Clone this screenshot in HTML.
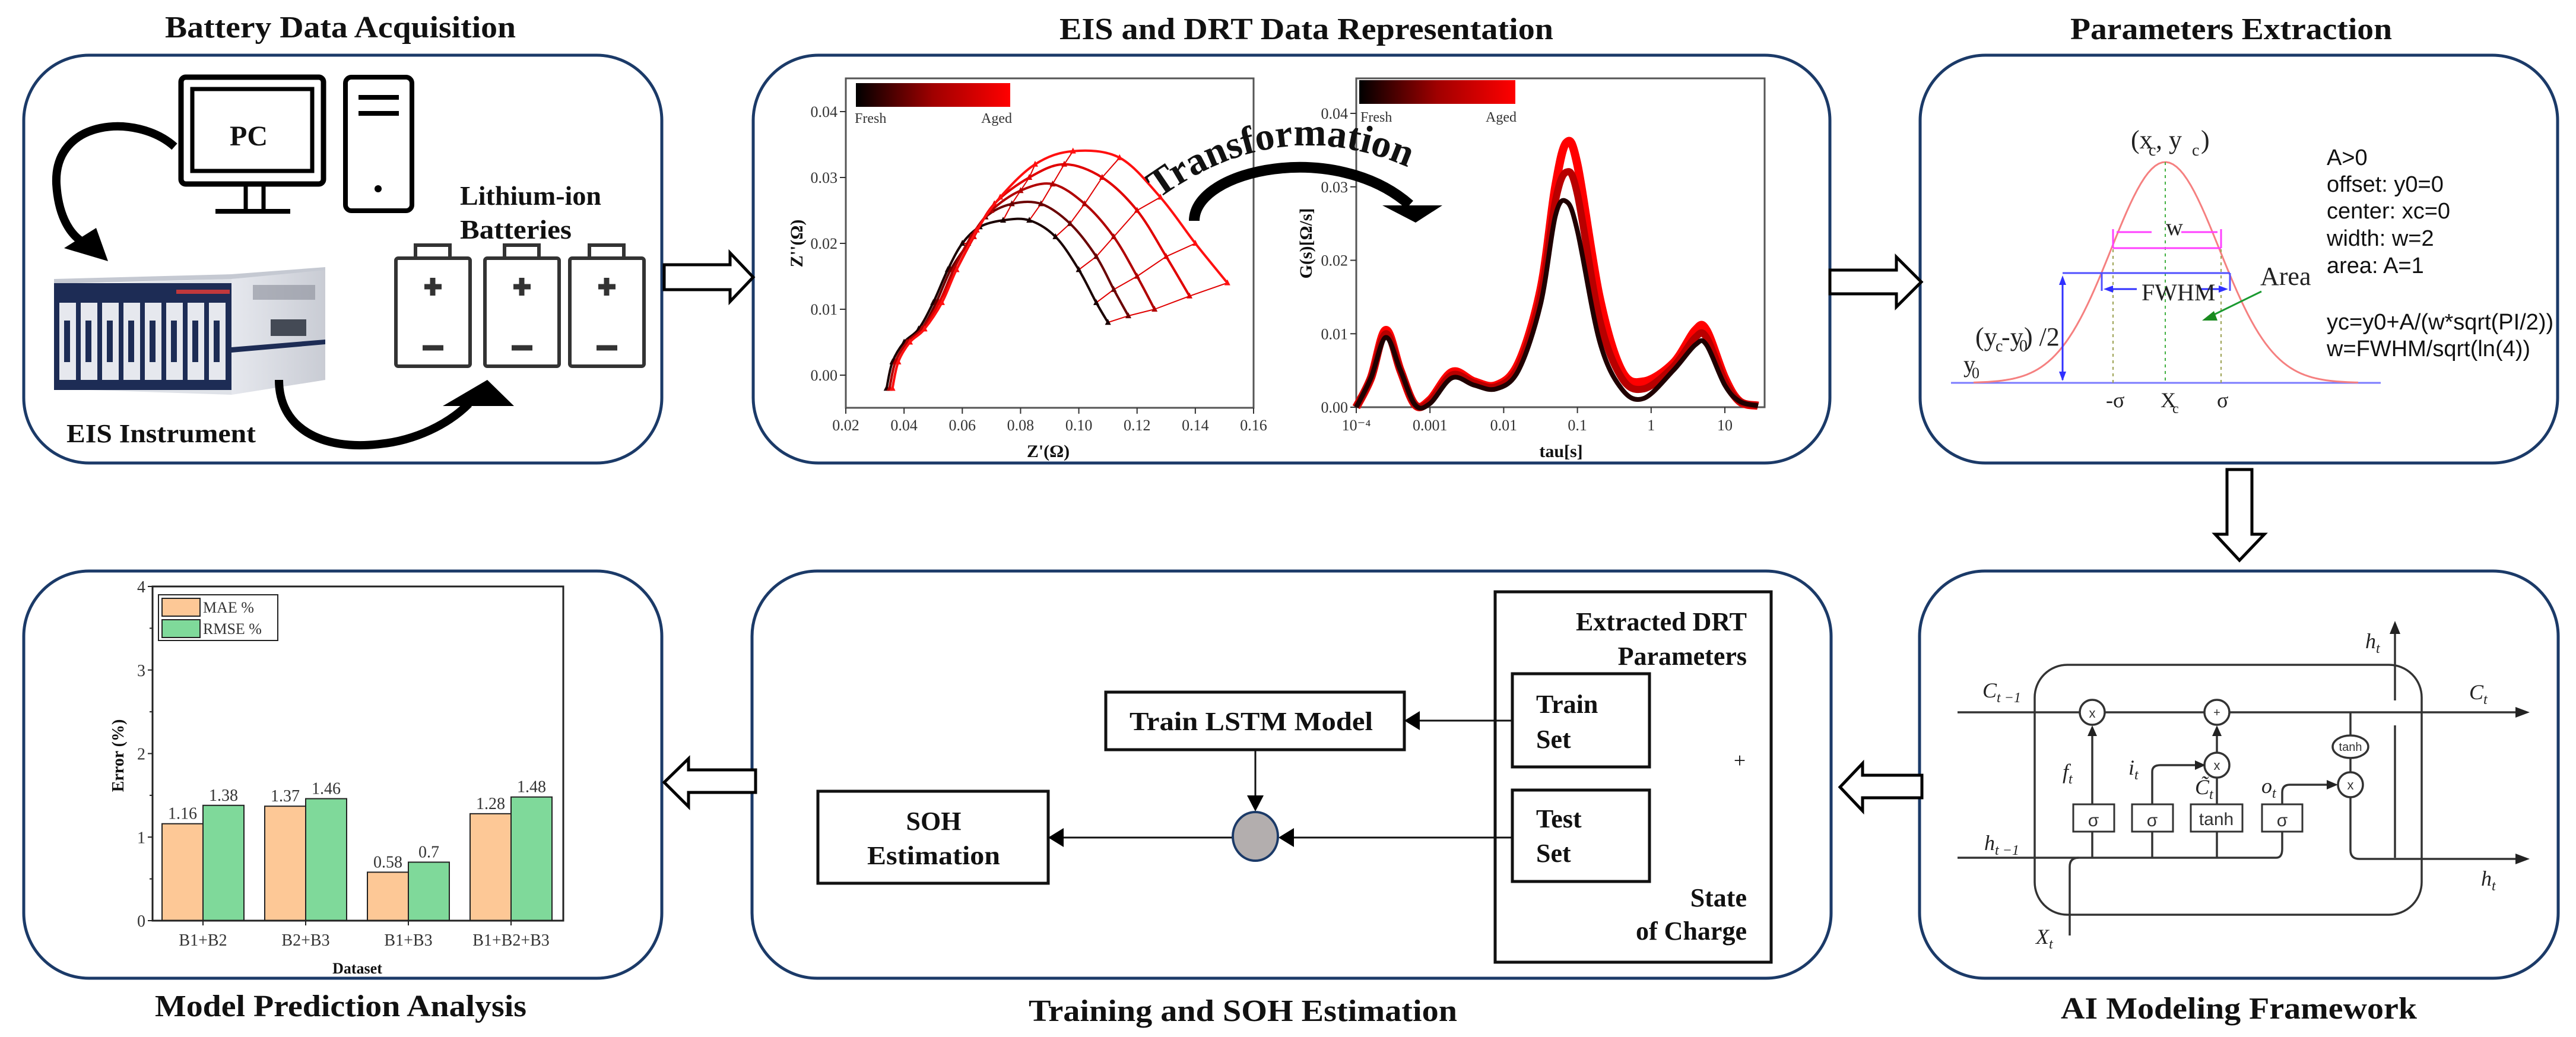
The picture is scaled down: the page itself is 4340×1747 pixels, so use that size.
<!DOCTYPE html>
<html><head><meta charset="utf-8">
<style>
html,body{margin:0;padding:0;background:#fff;}
svg{display:block;}
.ttl{font-family:"Liberation Serif",serif;font-weight:bold;font-size:52px;fill:#111;}
.lbl{font-family:"Liberation Serif",serif;font-weight:bold;fill:#111;}
.ar{font-family:"Liberation Sans",sans-serif;fill:#111;}
.tk{font-family:"Liberation Serif",serif;fill:#333;}
</style></head>
<body>
<svg id="root" width="4340" height="1747" viewBox="0 0 4340 1747" xmlns="http://www.w3.org/2000/svg">
<defs>
<linearGradient id="cb" x1="0" x2="1" y1="0" y2="0"><stop offset="0" stop-color="#000"/><stop offset="0.5" stop-color="#a00000"/><stop offset="1" stop-color="#ff0000"/></linearGradient>
<linearGradient id="side" x1="0" x2="1"><stop offset="0" stop-color="#e6e8ee"/><stop offset="1" stop-color="#c9ccd4"/></linearGradient>
<path id="tpath" d="M1945 340 Q 2200 150 2475 340"/>
</defs>

<!-- Titles -->
<text class="ttl" x="278" y="63" textLength="591" lengthAdjust="spacingAndGlyphs">Battery Data Acquisition</text>
<text class="ttl" x="1785" y="66" textLength="832" lengthAdjust="spacingAndGlyphs">EIS and DRT Data Representation</text>
<text class="ttl" x="3488" y="66" textLength="542" lengthAdjust="spacingAndGlyphs">Parameters Extraction</text>
<text class="ttl" x="261" y="1712" textLength="626" lengthAdjust="spacingAndGlyphs">Model Prediction Analysis</text>
<text class="ttl" x="1733" y="1720" textLength="722" lengthAdjust="spacingAndGlyphs">Training and SOH Estimation</text>
<text class="ttl" x="3472" y="1716" textLength="600" lengthAdjust="spacingAndGlyphs">AI Modeling Framework</text>

<!-- Panels -->
<g fill="none" stroke="#1b3a68" stroke-width="5">
<rect x="40" y="93" width="1075" height="687" rx="110"/>
<rect x="1269" y="93" width="1814" height="687" rx="110"/>
<rect x="3235" y="93" width="1074" height="687" rx="110"/>
<rect x="40" y="962" width="1075" height="686" rx="110"/>
<rect x="1267" y="962" width="1818" height="686" rx="110"/>
<rect x="3234" y="962" width="1076" height="686" rx="110"/>
</g>

<!-- Hollow flow arrows -->
<g fill="#fff" stroke="#000" stroke-width="5" stroke-linejoin="miter">
<polygon points="1119,446 1230,446 1230,426 1269,467 1230,508 1230,488 1119,488"/>
<polygon points="3083,455 3195,455 3195,433 3237,475 3195,517 3195,495 3083,495"/>
<polygon points="3752,791 3794,791 3794,900 3815,900 3773,944 3732,900 3752,900"/>
<polygon points="3238,1306 3138,1306 3138,1286 3100,1326 3138,1366 3138,1344 3238,1344"/>
<polygon points="1273,1297 1160,1297 1160,1278 1119,1318 1160,1359 1160,1335 1273,1335"/>
</g>

<!-- ===== Panel 1: Battery acquisition ===== -->
<g fill="none" stroke="#000" stroke-width="9">
<rect x="305" y="130" width="240" height="180" rx="8"/>
<rect x="324" y="150" width="202" height="138" stroke-width="7"/>
<line x1="414" y1="311" x2="414" y2="354" stroke-width="7"/>
<line x1="444" y1="311" x2="444" y2="354" stroke-width="7"/>
<line x1="363" y1="356" x2="489" y2="356" stroke-width="8"/>
</g>
<text class="lbl" x="419" y="245" font-size="48" text-anchor="middle">PC</text>
<g>
<rect x="582" y="130" width="112" height="225" rx="10" fill="none" stroke="#000" stroke-width="8"/>
<line x1="604" y1="164" x2="672" y2="164" stroke="#000" stroke-width="8"/>
<line x1="604" y1="191" x2="672" y2="191" stroke="#000" stroke-width="8"/>
<circle cx="637" cy="318" r="6" fill="#000"/>
</g>
<g>
<path d="M294 247 C 230 190, 90 200, 95 310 C 98 360, 115 390, 135 405" fill="none" stroke="#000" stroke-width="14"/>
<polygon points="108,418 162,384 182,440" fill="#000"/>
</g>
<g>
<polygon points="91,480 390,470 548,455 548,640 390,665 91,655" fill="#dfe2e8"/>
<polygon points="91,470 390,462 548,450 548,458 390,470 91,478" fill="#c5c9d2"/>
<polygon points="390,470 548,455 548,640 390,665" fill="url(#side)"/>
<rect x="91" y="477" width="299" height="180" fill="#1d2c55"/>
<rect x="297" y="488" width="90" height="7" fill="#c0383c"/>
<g fill="#e6e8ee">
<rect x="100" y="510" width="28" height="130"/><rect x="136" y="510" width="28" height="130"/><rect x="172" y="510" width="28" height="130"/><rect x="208" y="510" width="28" height="130"/><rect x="244" y="510" width="28" height="130"/><rect x="280" y="510" width="28" height="130"/><rect x="316" y="510" width="28" height="130"/><rect x="352" y="510" width="28" height="130"/>
</g>
<g fill="#1d2c55">
<rect x="108" y="540" width="10" height="70"/><rect x="144" y="540" width="10" height="70"/><rect x="180" y="540" width="10" height="70"/><rect x="216" y="540" width="10" height="70"/><rect x="252" y="540" width="10" height="70"/><rect x="288" y="540" width="10" height="70"/><rect x="324" y="540" width="10" height="70"/><rect x="360" y="540" width="10" height="70"/>
</g>
<rect x="426" y="480" width="105" height="25" fill="#8a8e99" opacity="0.6"/>
<rect x="456" y="538" width="60" height="28" fill="#444a55"/>
<polygon points="390,585 548,572 548,580 390,594" fill="#1d2c55"/>
</g>
<text class="lbl" x="112" y="745" font-size="44" textLength="319" lengthAdjust="spacingAndGlyphs">EIS Instrument</text>
<g>
<path d="M470 640 C 470 720, 540 760, 640 748 C 700 742, 755 715, 790 680" fill="none" stroke="#000" stroke-width="14"/>
<polygon points="746,684 866,684 821,640" fill="#000"/>
</g>
<text class="lbl" x="775" y="345" font-size="46" textLength="238" lengthAdjust="spacingAndGlyphs">Lithium-ion</text>
<text class="lbl" x="775" y="402" font-size="46" textLength="188" lengthAdjust="spacingAndGlyphs">Batteries</text>
<g id="batts" fill="none" stroke="#333" stroke-width="6"></g>

<!-- ===== Panel 2: EIS / DRT plots ===== -->
<g id="eis"></g>
<g id="drt"></g>
<g>
<path d="M2012 372 C 2012 285, 2250 235, 2375 345" fill="none" stroke="#000" stroke-width="18"/>
<polygon points="2329,346 2430,346 2385,375" fill="#000"/>
</g>
<text class="lbl" font-size="66"><textPath href="#tpath" startOffset="8">Transformation</textPath></text>

<!-- ===== Panel 3: Parameters ===== -->
<g id="gauss"></g>
<g class="ar" font-size="38">
<text x="3920" y="278">A&gt;0</text>
<text x="3920" y="323">offset: y0=0</text>
<text x="3920" y="368">center: xc=0</text>
<text x="3920" y="414">width: w=2</text>
<text x="3920" y="460">area: A=1</text>
<text x="3920" y="555">yc=y0+A/(w*sqrt(PI/2))</text>
<text x="3920" y="600">w=FWHM/sqrt(ln(4))</text>
</g>

<!-- ===== Panel 4: Bar chart ===== -->
<g id="bars"></g>

<!-- ===== Panel 5: Training ===== -->
<g fill="none" stroke="#111">
<rect x="2519" y="997" width="465" height="624" stroke-width="5"/>
<rect x="2548" y="1135" width="231" height="157" stroke-width="5"/>
<rect x="2548" y="1331" width="231" height="154" stroke-width="5"/>
<rect x="1863" y="1166" width="503" height="97" stroke-width="5"/>
<rect x="1378" y="1333" width="388" height="155" stroke-width="5"/>
<line x1="2548" y1="1214" x2="2390" y2="1214" stroke-width="3"/>
<line x1="2115" y1="1263" x2="2115" y2="1345" stroke-width="3"/>
<line x1="2548" y1="1411" x2="2175" y2="1411" stroke-width="3"/>
<line x1="2076" y1="1411" x2="1790" y2="1411" stroke-width="3"/>
</g>
<g fill="#000">
<polygon points="2366,1214 2392,1198 2392,1230"/>
<polygon points="2115,1367 2101,1340 2129,1340"/>
<polygon points="2154,1411 2180,1395 2180,1427"/>
<polygon points="1766,1411 1792,1395 1792,1427"/>
</g>
<ellipse cx="2115" cy="1409" rx="38" ry="41" fill="#b3aeae" stroke="#1b3a68" stroke-width="4"/>
<g class="lbl" font-size="44">
<text x="1903" y="1230" textLength="410" lengthAdjust="spacingAndGlyphs">Train LSTM Model</text>
<text x="1573" y="1398" text-anchor="middle">SOH</text>
<text x="1461" y="1456" textLength="224" lengthAdjust="spacingAndGlyphs">Estimation</text>
<text x="2588" y="1201">Train</text>
<text x="2588" y="1260">Set</text>
<text x="2588" y="1394">Test</text>
<text x="2588" y="1452">Set</text>
<text x="2943" y="1062" text-anchor="end">Extracted DRT</text>
<text x="2943" y="1120" text-anchor="end">Parameters</text>
<text x="2943" y="1527" text-anchor="end">State</text>
<text x="2943" y="1583" text-anchor="end">of Charge</text>
</g>
<text x="2931" y="1293" font-family="Liberation Serif, serif" font-size="36" text-anchor="middle" fill="#111">+</text>

<!-- ===== Panel 6: LSTM cell ===== -->
<g stroke="#333" stroke-width="3.5" fill="none">
<rect x="3428" y="1120" width="652" height="421" rx="55"/>
<line x1="3298" y1="1200" x2="3503" y2="1200"/>
<line x1="3547" y1="1200" x2="3713" y2="1200"/>
<line x1="3757" y1="1200" x2="4245" y2="1200"/>
<line x1="3298" y1="1445" x2="3835" y2="1445"/>
<path d="M3835 1445 Q 3845 1445 3845 1430 L 3845 1401"/>
<path d="M3487 1576 L 3487 1460 Q 3487 1445 3502 1445"/>
<line x1="3525" y1="1355" x2="3525" y2="1235"/>
<line x1="3525" y1="1445" x2="3525" y2="1401"/>
<line x1="3626" y1="1445" x2="3626" y2="1401"/>
<path d="M3626 1355 L 3626 1300 Q 3626 1289 3640 1289 L 3700 1289"/>
<line x1="3735" y1="1445" x2="3735" y2="1401"/>
<line x1="3735" y1="1355" x2="3735" y2="1310"/>
<line x1="3735" y1="1268" x2="3735" y2="1235"/>
<path d="M3845 1355 L 3845 1335 Q 3845 1322 3858 1322 L 3922 1322"/>
<line x1="3960" y1="1200" x2="3960" y2="1240"/>
<line x1="3960" y1="1276" x2="3960" y2="1302"/>
<path d="M3960 1342 L 3960 1432 Q 3960 1447 3975 1447 L 4245 1447"/>
<line x1="4035" y1="1060" x2="4035" y2="1180"/>
<line x1="4035" y1="1222" x2="4035" y2="1445"/>
<circle cx="3525" cy="1200" r="21" fill="#fff"/>
<circle cx="3735" cy="1200" r="21" fill="#fff"/>
<circle cx="3735" cy="1289" r="21" fill="#fff"/>
<circle cx="3960" cy="1322" r="21" fill="#fff"/>
<ellipse cx="3960" cy="1258" rx="30" ry="19" fill="#fff"/>
<rect x="3493" y="1355" width="69" height="46" fill="#fff" stroke-width="3"/>
<rect x="3592" y="1355" width="69" height="46" fill="#fff" stroke-width="3"/>
<rect x="3691" y="1355" width="87" height="46" fill="#fff" stroke-width="3"/>
<rect x="3811" y="1355" width="68" height="46" fill="#fff" stroke-width="3"/>
</g>
<g fill="#222">
<polygon points="4262,1200 4238,1191 4238,1209"/>
<polygon points="4262,1447 4238,1438 4238,1456"/>
<polygon points="4035,1046 4026,1068 4044,1068"/>
<polygon points="3525,1222 3517,1240 3533,1240"/>
<polygon points="3735,1222 3727,1240 3743,1240"/>
<polygon points="3716,1289 3698,1281 3698,1297"/>
<polygon points="3939,1322 3920,1314 3920,1330"/>
</g>
<g font-family="Liberation Sans, sans-serif" fill="#333" text-anchor="middle">
<text x="3525" y="1209" font-size="22">x</text>
<text x="3735" y="1207" font-size="20">+</text>
<text x="3735" y="1297" font-size="22">x</text>
<text x="3960" y="1330" font-size="22">x</text>
<text x="3960" y="1265" font-size="20">tanh</text>
<text x="3527" y="1392" font-size="30">σ</text>
<text x="3626" y="1392" font-size="30">σ</text>
<text x="3734" y="1390" font-size="30">tanh</text>
<text x="3845" y="1392" font-size="30">σ</text>
</g>
<g font-family="Liberation Serif, serif" font-style="italic" fill="#222" font-size="36">
<text x="3340" y="1175">C<tspan font-size="24" dy="8">t −1</tspan></text>
<text x="4160" y="1178">C<tspan font-size="24" dy="8">t</tspan></text>
<text x="3343" y="1432">h<tspan font-size="24" dy="8">t −1</tspan></text>
<text x="4180" y="1492">h<tspan font-size="24" dy="8">t</tspan></text>
<text x="3985" y="1092">h<tspan font-size="24" dy="8">t</tspan></text>
<text x="3430" y="1590">X<tspan font-size="24" dy="8">t</tspan></text>
<text x="3475" y="1312">f<tspan font-size="24" dy="8">t</tspan></text>
<text x="3586" y="1305">i<tspan font-size="24" dy="8">t</tspan></text>
<text x="3698" y="1338">C̃<tspan font-size="24" dy="8">t</tspan></text>
<text x="3810" y="1336">o<tspan font-size="24" dy="8">t</tspan></text>
</g>
</svg>

<script>
var NS="http://www.w3.org/2000/svg";
function mk(tag,attrs,parent){var e=document.createElementNS(NS,tag);for(var k in attrs)e.setAttribute(k,attrs[k]);parent.appendChild(e);return e;}

/* ---------- bar chart data ---------- */
var barCategories=["B1+B2","B2+B3","B1+B3","B1+B2+B3"];
var maeValues=[1.16,1.37,0.58,1.28];
var rmseValues=[1.38,1.46,0.7,1.48];
var barYTicks=[0,1,2,3,4];

/* ---------- EIS data (Z' Ω, -Z'' Ω), fresh -> aged ---------- */
var eisX0=[0.034,0.036,0.040,0.045,0.050,0.055,0.060,0.066,0.074,0.083,0.092,0.100,0.106,0.110];
var eisY0=[-0.002,0.002,0.005,0.007,0.011,0.016,0.020,0.0225,0.0235,0.0235,0.021,0.016,0.011,0.008];
var eisX1=[0.035,0.037,0.041,0.046,0.051,0.056,0.062,0.068,0.077,0.087,0.097,0.106,0.112,0.117];
var eisY1=[-0.002,0.002,0.005,0.007,0.011,0.016,0.020,0.024,0.026,0.026,0.023,0.018,0.013,0.009];
var eisX2=[0.035,0.037,0.041,0.046,0.052,0.057,0.063,0.070,0.080,0.091,0.102,0.112,0.120,0.126];
var eisY2=[-0.002,0.002,0.005,0.007,0.011,0.016,0.021,0.025,0.028,0.029,0.026,0.021,0.015,0.010];
var eisX3=[0.036,0.038,0.042,0.047,0.052,0.058,0.064,0.071,0.083,0.095,0.108,0.120,0.130,0.138];
var eisY3=[-0.002,0.002,0.005,0.007,0.011,0.016,0.021,0.026,0.030,0.032,0.030,0.025,0.018,0.012];
var eisX4=[0.036,0.038,0.042,0.047,0.053,0.058,0.065,0.073,0.085,0.098,0.114,0.128,0.140,0.151];
var eisY4=[-0.002,0.002,0.005,0.007,0.011,0.016,0.022,0.027,0.032,0.034,0.033,0.027,0.020,0.014];
var eisXTicks=[0.02,0.04,0.06,0.08,0.10,0.12,0.14,0.16];
var eisYTicks=[0.00,0.01,0.02,0.03,0.04];

/* ---------- DRT data (log10 tau, G) ---------- */
var drtLog=[-4,-3.8,-3.6,-3.4,-3.2,-3.0,-2.7,-2.4,-2.1,-1.8,-1.5,-1.3,-1.15,-1.0,-0.7,-0.4,-0.1,0.3,0.6,0.75,1.0,1.2,1.45];
var drtFresh=[0,0.004,0.0095,0.005,0.0003,0.0005,0.004,0.003,0.0025,0.005,0.014,0.026,0.028,0.024,0.009,0.0025,0.0012,0.005,0.0085,0.0085,0.003,0.0008,0.0002];
var drtMid=[0,0.004,0.010,0.005,0.0003,0.0008,0.0044,0.0033,0.0028,0.0055,0.015,0.028,0.032,0.029,0.012,0.004,0.0025,0.0055,0.0095,0.0095,0.0035,0.0008,0.0002];
var drtAged=[0,0.004,0.0105,0.005,0.0003,0.001,0.0048,0.0035,0.003,0.006,0.016,0.030,0.036,0.033,0.015,0.005,0.0035,0.006,0.0105,0.0105,0.004,0.0008,0.0002];
var drtXTickLabels=["10⁻⁴","0.001","0.01","0.1","1","10"];
var drtYTicks=[0.00,0.01,0.02,0.03,0.04];

/* batteries */
(function(){
  var g=document.getElementById('batts');
  var bx=[667,817,960];
  for(var i=0;i<3;i++){
    var b=mk('g',{},g);
    
    
    mk('rect',{x:bx[i],y:435,width:125,height:182,rx:4},b);
    mk('rect',{x:bx[i]+33,y:413,width:58,height:22},b);
    mk('line',{x1:bx[i]+48,y1:483,x2:bx[i]+77,y2:483,'stroke-width':9},b);
    mk('line',{x1:bx[i]+62,y1:468,x2:bx[i]+62,y2:498,'stroke-width':9},b);
    mk('line',{x1:bx[i]+45,y1:586,x2:bx[i]+80,y2:586,'stroke-width':9},b);
  }
})();

function smoothPath(pts){
  var d='M'+pts[0][0]+' '+pts[0][1];
  for(var i=0;i<pts.length-1;i++){
    var p0=pts[i-1]||pts[i],p1=pts[i],p2=pts[i+1],p3=pts[i+2]||p2;
    d+=' C'+(p1[0]+(p2[0]-p0[0])/6)+' '+(p1[1]+(p2[1]-p0[1])/6)+','+(p2[0]-(p3[0]-p1[0])/6)+' '+(p2[1]-(p3[1]-p1[1])/6)+','+p2[0]+' '+p2[1];
  }
  return d;
}

/* EIS plot */
(function(){
  var g=document.getElementById('eis');
  var L=1425,R=2112,T=132,B=687;
  function sx(v){return L+(v-0.02)/0.14*(R-L);}
  function sy(v){return 632-v/0.04*(632-188);}
  var fr=mk('rect',{x:L,y:T,width:R-L,height:B-T,fill:'none',stroke:'#555','stroke-width':3},g);
  
  
  eisXTicks.forEach(function(t){
    mk('line',{x1:sx(t),y1:B,x2:sx(t),y2:B+10,stroke:'#333','stroke-width':2},g);
    var tx=mk('text',{x:sx(t),y:725,'font-size':26,'text-anchor':'middle','class':'tk'},g);
    tx.textContent=t.toFixed(2);
    
    
  });
  eisYTicks.forEach(function(t){
    mk('line',{x1:L-10,y1:sy(t),x2:L,y2:sy(t),stroke:'#333','stroke-width':2},g);
    var ty=mk('text',{x:L-14,y:sy(t)+9,'font-size':26,'text-anchor':'end','class':'tk'},g);
    ty.textContent=t.toFixed(2);
    
    
  });
  var cb=mk('rect',{x:1442,y:140,width:260,height:40,fill:'url(#cb)'},g);
  
  
  var t1=mk('text',{x:1440,y:207,'font-size':24,'class':'tk'},g);t1.textContent='Fresh';
  
  
  var t2=mk('text',{x:1705,y:207,'font-size':24,'text-anchor':'end','class':'tk'},g);t2.textContent='Aged';
  
  
  var xl=mk('text',{x:1766,y:770,'font-size':30,'text-anchor':'middle','class':'lbl'},g);xl.textContent="Z'(Ω)";
  
  
  var yl=mk('text',{x:0,y:0,'font-size':30,'text-anchor':'middle','class':'lbl',transform:'translate(1352,410) rotate(-90)'},g);yl.textContent="Z''(Ω)";
  
  
  var XS=[eisX0,eisX1,eisX2,eisX3,eisX4],YS=[eisY0,eisY1,eisY2,eisY3,eisY4];
  var cols=['#1a0000','#6a0000','#b00000','#e00000','#ff1010'];
  for(var k=0;k<XS.length-1;k++){
    for(var j=0;j<XS[k].length;j++){
      mk('line',{x1:sx(XS[k][j]),y1:sy(YS[k][j]),x2:sx(XS[k+1][j]),y2:sy(YS[k+1][j]),stroke:'#e00000','stroke-width':2},g);
    }
  }
  for(var s=0;s<XS.length;s++){
    var pts=XS[s].map(function(x,i){return [sx(x),sy(YS[s][i])];});
    var p=mk('path',{d:smoothPath(pts),fill:'none',stroke:cols[s],'stroke-width':4},g);
    
    
    pts.forEach(function(q){
      var m=mk('polygon',{points:(q[0])+','+(q[1]-6)+' '+(q[0]-5)+','+(q[1]+4)+' '+(q[0]+5)+','+(q[1]+4),fill:cols[s]},g);
      
      
    });
  }
})();

/* DRT plot */
(function(){
  var g=document.getElementById('drt');
  var L=2285,R=2973,T=132,B=686;
  function sx(lg){return L+(lg+4)*124.2;}
  function sy(v){return B-v/0.04*(B-191);}
  var fr=mk('rect',{x:L,y:T,width:R-L,height:B-T,fill:'none',stroke:'#555','stroke-width':3},g);
  
  
  drtXTickLabels.forEach(function(lab,i){
    mk('line',{x1:sx(i-4),y1:B,x2:sx(i-4),y2:B+10,stroke:'#333','stroke-width':2},g);
    var tx=mk('text',{x:sx(i-4),y:725,'font-size':26,'text-anchor':'middle','class':'tk'},g);
    tx.textContent=lab;
    
    
  });
  drtYTicks.forEach(function(t){
    mk('line',{x1:L-10,y1:sy(t),x2:L,y2:sy(t),stroke:'#333','stroke-width':2},g);
    var ty=mk('text',{x:L-14,y:sy(t)+9,'font-size':26,'text-anchor':'end','class':'tk'},g);
    ty.textContent=t.toFixed(2);
    
    
  });
  var cb=mk('rect',{x:2290,y:135,width:263,height:40,fill:'url(#cb)'},g);
  
  
  var t1=mk('text',{x:2292,y:205,'font-size':24,'class':'tk'},g);t1.textContent='Fresh';
  
  
  var t2=mk('text',{x:2555,y:205,'font-size':24,'text-anchor':'end','class':'tk'},g);t2.textContent='Aged';
  
  
  var xl=mk('text',{x:2630,y:770,'font-size':30,'text-anchor':'middle','class':'lbl'},g);xl.textContent='tau[s]';
  
  
  var yl=mk('text',{x:0,y:0,'font-size':30,'text-anchor':'middle','class':'lbl',transform:'translate(2210,410) rotate(-90)'},g);yl.textContent='G(s)[Ω/s]';
  
  
  var series=[drtAged,drtMid,drtFresh];
  var cols=['#ff0000','#b80000','#200000'];
  var widths=[14,12,8];
  series.forEach(function(sv,s){
    var pts=drtLog.map(function(l,i){return [sx(l),sy(sv[i])];});
    var p=mk('path',{d:smoothPath(pts),fill:'none',stroke:cols[s],'stroke-width':widths[s],'stroke-linejoin':'round'},g);
    
    
  });
})();

/* Gaussian diagram */
(function(){
  var g=document.getElementById('gauss');
  var cx=3648,base=645,h=372,sig=91;
  var pts=[];
  for(var x=3325;x<=3975;x+=6){pts.push(x+','+(base-h*Math.exp(-(x-cx)*(x-cx)/(2*sig*sig))));}
  mk('line',{x1:3287,y1:645,x2:4011,y2:645,stroke:'#7b7bff','stroke-width':3},g);
  var c=mk('polyline',{points:pts.join(' '),fill:'none',stroke:'#f58080','stroke-width':3},g);
  
  
  [3560,3742].forEach(function(x){mk('line',{x1:x,y1:420,x2:x,y2:645,stroke:'#9aa050','stroke-width':2,'stroke-dasharray':'5,6'},g);});
  mk('line',{x1:3648,y1:273,x2:3648,y2:645,stroke:'#40b040','stroke-width':2,'stroke-dasharray':'5,6'},g);
  mk('line',{x1:3475,y1:460,x2:3757,y2:460,stroke:'#5050ff','stroke-width':3},g);
  mk('line',{x1:3541,y1:460,x2:3541,y2:490,stroke:'#5050ff','stroke-width':3},g);
  mk('line',{x1:3757,y1:460,x2:3757,y2:490,stroke:'#5050ff','stroke-width':3},g);
  mk('line',{x1:3548,y1:487,x2:3600,y2:487,stroke:'#3030ff','stroke-width':3},g);
  mk('line',{x1:3706,y1:487,x2:3750,y2:487,stroke:'#3030ff','stroke-width':3},g);
  mk('polygon',{points:'3544,487 3560,481 3560,493',fill:'#3030ff'},g);
  mk('polygon',{points:'3754,487 3738,481 3738,493',fill:'#3030ff'},g);
  mk('line',{x1:3560,y1:418,x2:3742,y2:418,stroke:'#ff40ff','stroke-width':3},g);
  mk('line',{x1:3560,y1:386,x2:3560,y2:418,stroke:'#ff40ff','stroke-width':3},g);
  mk('line',{x1:3742,y1:386,x2:3742,y2:418,stroke:'#ff40ff','stroke-width':3},g);
  mk('line',{x1:3566,y1:391,x2:3625,y2:391,stroke:'#ff40ff','stroke-width':3},g);
  mk('line',{x1:3675,y1:391,x2:3736,y2:391,stroke:'#ff40ff','stroke-width':3},g);
  mk('line',{x1:3475,y1:470,x2:3475,y2:640,stroke:'#3030ff','stroke-width':3},g);
  mk('polygon',{points:'3475,464 3469,480 3481,480',fill:'#3030ff'},g);
  mk('polygon',{points:'3475,642 3469,626 3481,626',fill:'#3030ff'},g);
  mk('line',{x1:3810,y1:491,x2:3722,y2:534,stroke:'#1a9a30','stroke-width':3},g);
  mk('polygon',{points:'3710,540 3730,524 3736,540',fill:'#1a8a20'},g);
  var labs=[['(x',3590,250,44],['c',3620,262,28],[', y',3632,250,44],['c',3693,262,28],[')',3708,250,44],
    ['w',3649,396,40],['FWHM',3608,506,40],['Area',3808,480,44],['(y',3328,582,44],['c',3362,592,28],['-y',3372,582,44],['0',3402,592,28],[') /2',3410,582,44],
    ['y',3308,627,40],['0',3322,637,26],['-σ',3548,686,36],['X',3640,686,36],['c',3660,696,24],['σ',3735,686,36]];
  labs.forEach(function(l){
    var t=mk('text',{x:l[1],y:l[2],'font-size':l[3],'font-family':'Liberation Serif, serif',fill:'#222'},g);
    t.textContent=l[0];
    
    
  });
})();

/* Bar chart */
(function(){
  var g=document.getElementById('bars');
  var L=257,R=949,T=988,B=1551;
  function sy(v){return B-v/4*(B-T);}
  var step=173,bw=69,x0=342;
  for(var i=0;i<barCategories.length;i++){
    var cxp=x0+i*step;
    var r1=mk('rect',{x:cxp-bw,y:sy(maeValues[i]),width:bw,height:B-sy(maeValues[i]),fill:'#fdc896',stroke:'#222','stroke-width':2},g);
    
    
    var r2=mk('rect',{x:cxp,y:sy(rmseValues[i]),width:bw,height:B-sy(rmseValues[i]),fill:'#7fd99a',stroke:'#222','stroke-width':2},g);
    
    
    var v1=mk('text',{x:cxp-bw/2,y:sy(maeValues[i])-8,'font-size':28,'text-anchor':'middle','class':'tk',fill:'#111'},g);
    v1.textContent=String(maeValues[i]);
    
    
    var v2=mk('text',{x:cxp+bw/2,y:sy(rmseValues[i])-8,'font-size':28,'text-anchor':'middle','class':'tk',fill:'#111'},g);
    v2.textContent=String(rmseValues[i]);
    
    
    var c=mk('text',{x:cxp,y:1593,'font-size':28,'text-anchor':'middle','class':'tk',fill:'#111'},g);
    c.textContent=barCategories[i];
    
    
    mk('line',{x1:cxp,y1:B,x2:cxp,y2:B+8,stroke:'#222','stroke-width':2},g);
  }
  var fr=mk('rect',{x:L,y:T,width:R-L,height:B-T,fill:'none',stroke:'#222','stroke-width':3},g);
  
  
  barYTicks.forEach(function(t){
    mk('line',{x1:L-8,y1:sy(t),x2:L,y2:sy(t),stroke:'#222','stroke-width':2},g);
    if(t<4)mk('line',{x1:L-5,y1:sy(t+0.5),x2:L,y2:sy(t+0.5),stroke:'#222','stroke-width':2},g);
    var ty=mk('text',{x:L-12,y:sy(t)+10,'font-size':28,'text-anchor':'end','class':'tk',fill:'#111'},g);
    ty.textContent=String(t);
    
    
  });
  var yl=mk('text',{x:0,y:0,'font-size':28,'text-anchor':'middle','class':'lbl',transform:'translate(208,1273) rotate(-90)'},g);yl.textContent='Error (%)';
  
  
  var xl=mk('text',{x:602,y:1640,'font-size':26,'text-anchor':'middle','class':'lbl'},g);xl.textContent='Dataset';
  
  
  var lg=mk('g',{},g);
  
  
  mk('rect',{x:267,y:1002,width:201,height:77,fill:'#fff',stroke:'#222','stroke-width':2},lg);
  mk('rect',{x:273,y:1008,width:64,height:30,fill:'#fdc896',stroke:'#222','stroke-width':2},lg);
  mk('rect',{x:273,y:1044,width:64,height:30,fill:'#7fd99a',stroke:'#222','stroke-width':2},lg);
  var l1=mk('text',{x:342,y:1032,'font-size':26,'class':'tk',fill:'#111'},lg);l1.textContent='MAE %';
  
  
  var l2=mk('text',{x:342,y:1068,'font-size':26,'class':'tk',fill:'#111'},lg);l2.textContent='RMSE %';
  
  
})();
</script>
</body></html>
